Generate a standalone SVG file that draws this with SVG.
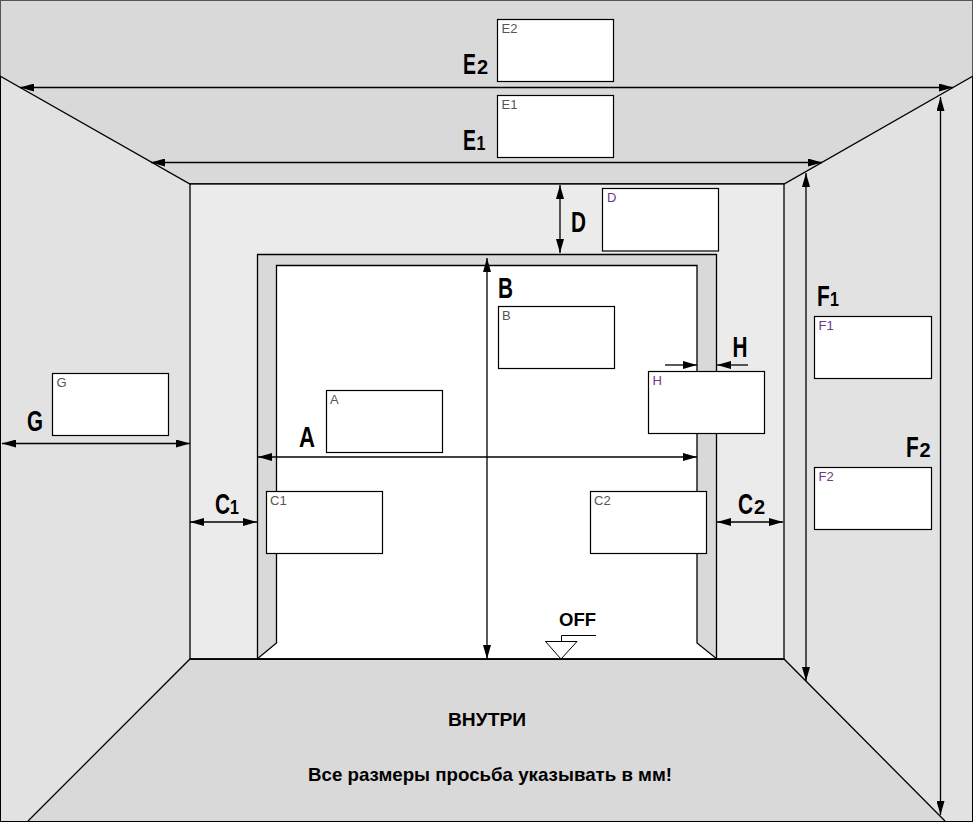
<svg xmlns="http://www.w3.org/2000/svg" width="973" height="822" viewBox="0 0 973 822">
<style>
.s{stroke:#000;stroke-width:1.3}
.box{fill:#fff;stroke:#000;stroke-width:1.2}
.t{font:13px "Liberation Sans",Arial,sans-serif;fill:#555}
.p{fill:#6a3a86}
.l{font:bold 29px "Liberation Sans",Arial,sans-serif;fill:#000}
.sub{font:bold 20px "Liberation Sans",Arial,sans-serif;fill:#000}
.b{font:bold 18.500px "Liberation Sans",Arial,sans-serif;fill:#000}
.d{fill:none;stroke:#000;stroke-width:1.3;marker-start:url(#a);marker-end:url(#a)}
.e{fill:none;stroke:#000;stroke-width:1.3;marker-end:url(#a)}
</style>
<defs>
<marker id="a" viewBox="0 0 14 8" refX="14" refY="4" markerWidth="14" markerHeight="8" markerUnits="userSpaceOnUse" orient="auto-start-reverse"><path d="M0 0L14 4L0 8Z" fill="#000"/></marker>
</defs>
<g id="room">
<rect x="0.5" y="0.5" width="972" height="821" fill="#e2e2e2" stroke="#555" stroke-width="1"/>
<path d="M1 76L190 184H784L972 76V1H1Z" fill="#d9d9d9"/>
<path d="M190 659H784L945 821H28Z" fill="#d9d9d9"/>
<path d="M0 76L190 184H784L973 76M28 821L190 659H784L945 821" class="s" fill="none"/>
<path d="M0.500 76V821.500H972.500V76" fill="none" stroke="#000"/>
<rect x="190" y="184" width="594" height="475" fill="#ebebeb" class="s"/>
<path d="M257.500 659V254.500H716.500V659Z" fill="#d9d9d9" class="s"/>
<path d="M276.500 265.500H697V643L717 659H257L276.500 643Z" fill="#fff" class="s"/>
<path d="M190 659H784" class="s"/>
</g>
<g id="connectors">
<path class="d" d="M20 87.500H953"/>
<path class="d" d="M151 162.500H822"/>
<path class="d" d="M560 185V253"/>
<path class="d" d="M806 173V681"/>
<path class="d" d="M940.500 97V815"/>
<path class="d" d="M487 258V659"/>
<path class="d" d="M258 457H697"/>
<path class="d" d="M2 443.500H190"/>
<path class="d" d="M190 522H257"/>
<path class="d" d="M717 522H783"/>
<path class="e" d="M665 365H697"/>
<path class="e" d="M748 365H717"/>
</g>
<g id="off">
<path d="M545.500 641.500H577L561 659Z" fill="#fff" stroke="#000"/>
<path d="M561.500 641V635.500H596" fill="none" stroke="#000"/>
<text class="b" x="559" y="626" textLength="37" lengthAdjust="spacingAndGlyphs">OFF</text>
</g>
<g id="node-e2"><rect class="box" x="497.500" y="19.500" width="116" height="62"/><text class="t" x="501.500" y="33">E2</text><text class="l" transform="translate(463 74) scale(.67 1)">E</text><text class="sub" x="477" y="74">2</text></g>
<g id="node-e1"><rect class="box" x="497.500" y="95.500" width="116" height="62"/><text class="t" x="501.500" y="109">E1</text><text class="l" transform="translate(463 150) scale(.67 1)">E</text><text class="sub" transform="translate(476.500 150) scale(.8 1)">1</text></g>
<g id="node-d"><rect class="box" x="602.500" y="188.500" width="116" height="62.500"/><text class="t p" x="607" y="202">D</text><text class="l" x="571" y="232" textLength="15" lengthAdjust="spacingAndGlyphs">D</text></g>
<g id="node-b"><rect class="box" x="498.500" y="306.500" width="116" height="62"/><text class="t" x="502" y="320">B</text><text class="l" x="498" y="298" textLength="15" lengthAdjust="spacingAndGlyphs">B</text></g>
<g id="node-h"><rect class="box" x="648.500" y="371.500" width="116" height="62"/><text class="t p" x="652.500" y="385">H</text><text class="l" x="732.500" y="357" textLength="15" lengthAdjust="spacingAndGlyphs">H</text></g>
<g id="node-f1"><rect class="box" x="814.500" y="316.500" width="117" height="62"/><text class="t p" x="818.500" y="330">F1</text><text class="l" transform="translate(817 306) scale(.72 1)">F</text><text class="sub" transform="translate(830 306) scale(.8 1)">1</text></g>
<g id="node-f2"><rect class="box" x="814.500" y="467.500" width="117" height="62"/><text class="t p" x="818.500" y="481">F2</text><text class="l" transform="translate(906 457) scale(.72 1)">F</text><text class="sub" x="919.500" y="457">2</text></g>
<g id="node-g"><rect class="box" x="52.500" y="373.500" width="116" height="62"/><text class="t" x="56.500" y="387">G</text><text class="l" x="27" y="431" textLength="16" lengthAdjust="spacingAndGlyphs">G</text></g>
<g id="node-a"><rect class="box" x="326.500" y="390.500" width="116" height="62"/><text class="t" x="330" y="404">A</text><text class="l" x="299" y="447" textLength="16" lengthAdjust="spacingAndGlyphs">A</text></g>
<g id="node-c1"><rect class="box" x="266.500" y="491.500" width="116" height="62"/><text class="t" x="270" y="505">C1</text><text class="l" transform="translate(215 514) scale(.72 1)">C</text><text class="sub" transform="translate(230 514) scale(.8 1)">1</text></g>
<g id="node-c2"><rect class="box" x="590.500" y="491.500" width="116" height="62"/><text class="t" x="594" y="505">C2</text><text class="l" transform="translate(738 514) scale(.72 1)">C</text><text class="sub" x="754" y="514">2</text></g>
<g id="captions">
<text class="b" x="448" y="726" textLength="78" lengthAdjust="spacingAndGlyphs">ВНУТРИ</text>
<text class="b" x="308" y="781" textLength="364" lengthAdjust="spacingAndGlyphs">Все размеры просьба указывать в мм!</text>
</g>
</svg>
